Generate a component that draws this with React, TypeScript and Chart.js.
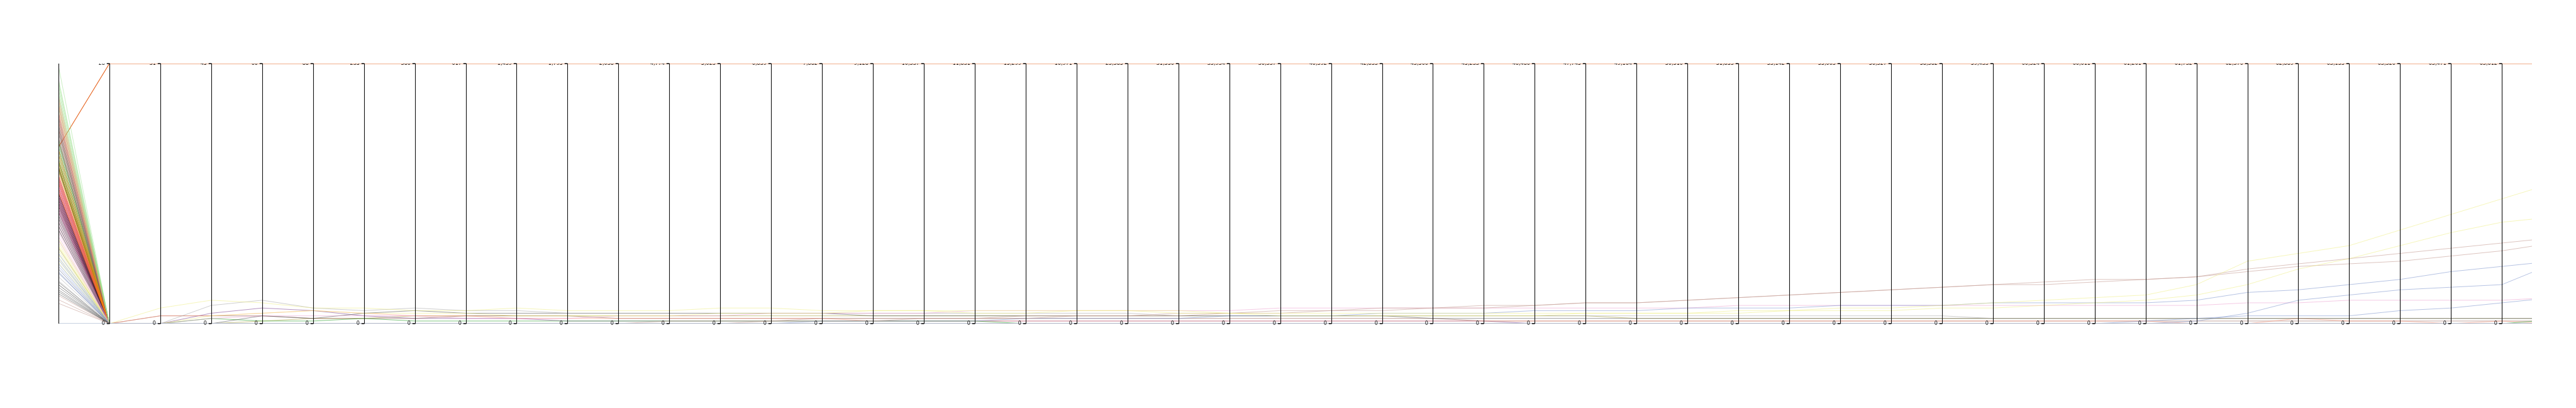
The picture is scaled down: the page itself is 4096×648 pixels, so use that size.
import React, { useEffect, useRef } from "react";
import { Chart, registerables } from "chart.js";

Chart.register(...registerables);

// Top (maximum) label of each numeric axis, axes 1..48 (axis 0 is the unlabeled category axis)
const AXIS_MAX_LABELS = [
  "28", "31", "45", "60", "88", "235", "380", "617", "1,439", "1,795", "2,038", "4,774",
  "5,023", "6,839", "7,882", "9,128", "10,337", "11,831", "15,299", "16,971", "23,385", "31,550", "33,934", "36,337",
  "40,392", "42,833", "43,500", "45,233", "46,480", "47,745", "49,164", "50,510", "51,853", "53,142", "55,003", "56,327",
  "58,382", "59,433", "60,324", "60,611", "61,201", "61,732", "62,370", "62,889", "63,153", "63,320", "63,471", "63,612",
];
const AXIS_COUNT = 49; // axes 0..48 visible
const X_MAX = 48.59; // plot is cut a little after the last visible axis

// Values on the numeric axes (1..49) in % of each axis maximum, for lines that stay at zero
const NONE = [
  0, 0, 0, 0, 0, 0, 0, 0, 0, 0,
  0, 0, 0, 0, 0, 0, 0, 0, 0, 0,
  0, 0, 0, 0, 0, 0, 0, 0, 0, 0,
  0, 0, 0, 0, 0, 0, 0, 0, 0, 0,
  0, 0, 0, 0, 0, 0, 0, 0, 0,
];

// Positions on the first axis (% of its height), one per line, grouped by colour
const START_LIGHTGREEN = [99, 94, 93, 91.5, 90, 88.5, 87, 85, 83];
const START_SALMON = [87.5, 86, 84.5, 83, 81.5, 80, 78];
const START_BROWN = [81, 79, 77.5, 76, 74.5, 73, 71.5, 70];
const START_GRAYTOP = [79.5, 76.5, 73.5];
const START_GREEN = [71, 69.5, 68, 66.5, 65, 63.5, 62, 60.5, 59];
const START_ORANGE = [67, 65, 63, 61.5, 60, 58.5, 57, 55.5, 54, 52, 50.5];
const START_MAGENTA = [57, 56.2, 55.4, 54.6, 53.8, 53, 52.2, 51.4, 50.6, 49.8, 49, 48.2, 47.4, 46.6, 45.8, 45, 44, 43];
const START_BLACK = [50, 48.8, 47.6, 46.4, 45.2, 44, 42.8, 41.6, 40.4, 39, 37.5, 36];
const START_PINK = [44, 42.5, 41, 39.5, 36.5, 35, 33.5, 32];
const START_YELLOW = [32.5, 31, 29.5, 26.5, 25, 23.5];
const START_BLUE = [27, 25.5, 24.5, 23, 21];
const START_LIGHTGRAY = [21, 18, 16.5, 15];
const START_DARKGRAY = [16, 15, 13, 12.3, 11.5];
const START_TAN = [7.8];
const START_BLUEGRAY = [0];
const START_OLIVEDARK = [60];

// Lines with non-zero values (start on axis 0, then axes 1..49 in % of axis max)
const TOP_START = 67.9;
const TOP_VALUES = [
  100, 100, 100, 100, 100, 100, 100, 100, 100, 100,
  100, 100, 100, 100, 100, 100, 100, 100, 100, 100,
  100, 100, 100, 100, 100, 100, 100, 100, 100, 100,
  100, 100, 100, 100, 100, 100, 100, 100, 100, 100,
  100, 100, 100, 100, 100, 100, 100, 100, 100,
];
const YELLOW1_START = 30;
const YELLOW1 = [
  0, 6, 9, 8, 6, 6, 5, 5, 6, 5,
  5, 5, 6, 6, 5, 5, 5, 4, 4, 5,
  5, 4, 4, 3, 3, 3, 3, 3, 3, 4,
  4, 4, 5, 5, 6, 6, 7, 8, 9, 10,
  11, 15, 24, 27, 30, 36, 42, 48, 54,
];
const YELLOW2_START = 28;
const YELLOW2 = [
  0, 0, 3, 4, 5, 4, 4, 4, 3, 3,
  3, 3, 4, 4, 4, 5, 5, 5, 5, 5,
  5, 5, 4, 4, 4, 4, 4, 4, 4, 4,
  4, 4, 4, 5, 5, 5, 6, 6, 7, 8,
  9, 11, 15, 21, 25, 30, 35, 39, 41,
];
const TAN1_START = 10.8;
const TAN1 = [
  0, 0, 0, 0, 0, 0, 0, 0, 0, 0,
  0, 1, 1, 1, 2, 2, 2, 2, 3, 3,
  3, 4, 4, 5, 5, 6, 6, 7, 7, 8,
  8, 9, 10, 11, 12, 13, 14, 15, 15, 16,
  17, 18, 21, 23, 25, 27, 29, 31, 33,
];
const TAN2_START = 9.2;
const TAN2 = [
  0, 0, 0, 0, 0, 0, 0, 0, 0, 0,
  0, 0, 0, 1, 1, 1, 2, 2, 2, 3,
  3, 3, 4, 4, 5, 5, 6, 6, 7, 8,
  8, 9, 10, 11, 12, 13, 14, 15, 16, 17,
  17, 18, 20, 22, 23, 24, 26, 28, 31,
];
const BLUE1_START = 22;
const BLUE1 = [
  0, 0, 0, 0, 0, 0, 0, 0, 0, 0,
  0, 0, 0, 0, 1, 1, 1, 1, 2, 2,
  2, 2, 3, 3, 3, 4, 4, 4, 5, 5,
  5, 6, 6, 6, 7, 7, 7, 8, 8, 8,
  8, 9, 12, 13, 15, 17, 20, 22, 24,
];
const BLUE2_START = 19.5;
const BLUE2 = [
  0, 0, 0, 0, 0, 0, 0, 0, 0, 0,
  0, 0, 0, 0, 0, 0, 0, 0, 0, 0,
  0, 0, 0, 0, 0, 0, 0, 0, 0, 0,
  0, 0, 0, 0, 0, 0, 0, 0, 0, 0,
  0, 1, 4, 9, 11, 13, 14, 15, 23,
];
const BLUE3_START = 20;
const BLUE3 = [
  0, 0, 0, 0, 0, 0, 0, 0, 0, 0,
  0, 0, 0, 0, 0, 0, 0, 0, 0, 0,
  0, 0, 0, 0, 0, 0, 0, 0, 0, 0,
  0, 0, 0, 0, 0, 0, 0, 0, 0, 0,
  1, 2, 3, 3, 3, 5, 6, 8, 10,
];
const PINK_START = 38;
const PINK = [
  0, 0, 2, 3, 3, 3, 3, 2, 2, 2,
  3, 3, 3, 4, 4, 4, 4, 5, 5, 5,
  5, 5, 5, 6, 6, 6, 6, 6, 6, 6,
  6, 6, 7, 7, 7, 7, 7, 7, 7, 7,
  7, 7, 8, 8, 9, 9, 9, 9, 10,
];
const GRAY1_START = 19.5;
const GRAY1 = [
  0, 0, 7, 9, 6, 5, 6, 5, 5, 4,
  4, 4, 4, 4, 4, 4, 4, 4, 4, 4,
  4, 3, 3, 3, 3, 3, 3, 3, 3, 3,
  3, 3, 3, 3, 3, 3, 3, 2, 2, 2,
  2, 2, 2, 2, 2, 2, 2, 2, 2,
];
const GRAY2_START = 14;
const GRAY2 = [
  0, 0, 0, 3, 2, 4, 5, 4, 4, 4,
  4, 4, 4, 4, 4, 3, 3, 3, 3, 3,
  3, 3, 3, 3, 3, 3, 2, 2, 2, 2,
  2, 2, 2, 2, 2, 2, 2, 2, 2, 2,
  2, 2, 2, 2, 2, 2, 2, 2, 2,
];
const GREEN1_START = 62.5;
const GREEN1 = [
  0, 0, 2, 1, 1, 2, 1, 1, 1, 1,
  1, 1, 1, 1, 1, 1, 1, 1, 0, 0,
  0, 0, 0, 0, 0, 0, 0, 0, 0, 0,
  0, 0, 0, 0, 0, 0, 0, 0, 0, 0,
  0, 0, 0, 0, 0, 0, 0, 0, 1.5,
];
const SALMON1_START = 84;
const SALMON1 = [
  0, 3, 3, 4, 5, 4, 3, 3, 2, 2,
  2, 2, 2, 2, 2, 1, 1, 1, 1, 1,
  1, 1, 1, 1, 1, 1, 1, 1, 1, 1,
  1, 1, 1, 1, 1, 1, 1, 1, 1, 1,
  1, 0, 0, 2, 1, 1, 0, 1, 0,
];
const BROWN1_START = 75;
const BROWN1 = [
  0, 3, 3, 3, 2, 2, 2, 3, 3, 3,
  2, 2, 2, 2, 2, 2, 2, 2, 2, 2,
  2, 2, 2, 2, 2, 2, 2, 1, 1, 1,
  1, 1, 1, 1, 1, 1, 1, 1, 1, 1,
  1, 1, 1, 1, 1, 1, 1, 1, 1,
];
const PURPLE1_START = 50;
const PURPLE1 = [
  0, 0, 4, 6, 5, 3, 2, 2, 2, 1,
  1, 1, 1, 1, 1, 1, 1, 1, 1, 1,
  1, 1, 1, 1, 1, 1, 1, 1, 0, 0,
  0, 0, 0, 0, 0, 0, 0, 0, 0, 0,
  0, 0, 0, 0, 0, 0, 0, 0, 0,
];
const OLIVE1_START = 29;
const OLIVE1 = [
  0, 0, 0, 1, 2, 2, 3, 3, 3, 3,
  3, 3, 3, 3, 3, 3, 3, 3, 3, 3,
  3, 3, 3, 3, 3, 3, 3, 3, 3, 3,
  2, 2, 2, 2, 2, 2, 2, 2, 2, 2,
  2, 2, 2, 2, 2, 2, 2, 2, 2,
];

const COLORS = {
  lightgreen: "rgba(152,223,138,0.5)",
  salmon: "rgba(255,140,110,0.5)",
  brown: "rgba(140,86,75,0.55)",
  graytop: "rgba(127,127,127,0.5)",
  green: "rgba(44,160,44,0.6)",
  orange: "rgba(255,127,14,0.6)",
  magenta: "rgba(200,30,120,0.6)",
  black: "rgba(30,30,30,0.6)",
  pink: "rgba(231,138,195,0.45)",
  yellow: "rgba(238,238,120,0.5)",
  blue: "rgba(110,135,200,0.5)",
  lightgray: "rgba(160,160,160,0.5)",
  darkgray: "rgba(80,80,80,0.55)",
  tan: "rgba(196,156,148,0.6)",
  bluegray: "rgba(185,198,218,0.8)",
  purple: "rgba(120,60,140,0.55)",
  olive: "rgba(170,165,70,0.6)",
  olivedark: "rgba(80,80,40,0.85)",
  top: "#e5601a",
};

const FONT = "9px 'Liberation Sans Narrow', 'DejaVu Sans Condensed', 'Liberation Sans', sans-serif";

function toPoints(start: number, values: number[]) {
  return [start, ...values].map((y, i) => ({ x: i, y }));
}

function line(color: string, start: number, values: number[], width = 1) {
  return {
    data: toPoints(start, values),
    borderColor: color,
    backgroundColor: color,
    borderWidth: width,
    pointRadius: 0,
    fill: false,
    tension: 0,
  };
}

const axesPlugin = {
  id: "parallelAxes",
  afterDatasetsDraw(chart: any) {
    const { ctx, chartArea, scales } = chart;
    const { top, bottom } = chartArea;
    const x = scales.x;
    ctx.save();
    for (let i = 0; i < AXIS_COUNT; i++) {
      const px = Math.round(x.getPixelForValue(i)) + 0.5;
      ctx.strokeStyle = "#111";
      ctx.lineWidth = 1.1;
      ctx.beginPath();
      ctx.moveTo(px, top);
      ctx.lineTo(px, bottom);
      ctx.stroke();
      if (i === 0) continue;
      ctx.lineWidth = 1.6;
      ctx.beginPath();
      ctx.moveTo(px - 4.7, top);
      ctx.lineTo(px, top);
      ctx.moveTo(px - 4.7, bottom);
      ctx.lineTo(px, bottom);
      ctx.stroke();
      ctx.fillStyle = "#111";
      ctx.font = FONT;
      ctx.textAlign = "right";
      ctx.textBaseline = "middle";
      ctx.fillText("0", px - 7.5, bottom);
      ctx.save();
      ctx.beginPath();
      ctx.rect(0, top, chart.width, chart.height - top);
      ctx.clip();
      ctx.fillText(AXIS_MAX_LABELS[i - 1], px - 7.5, top);
      ctx.restore();
    }
    ctx.restore();
  },
};

export default function App() {
  const ref = useRef<HTMLCanvasElement>(null);
  useEffect(() => {
    const datasets: any[] = [];
    const groups: [string, number[]][] = [
      [COLORS.bluegray, START_BLUEGRAY],
      [COLORS.tan, START_TAN],
      [COLORS.darkgray, START_DARKGRAY],
      [COLORS.lightgray, START_LIGHTGRAY],
      [COLORS.blue, START_BLUE],
      [COLORS.yellow, START_YELLOW],
      [COLORS.pink, START_PINK],
      [COLORS.lightgreen, START_LIGHTGREEN],
      [COLORS.salmon, START_SALMON],
      [COLORS.graytop, START_GRAYTOP],
      [COLORS.brown, START_BROWN],
      [COLORS.orange, START_ORANGE],
      [COLORS.green, START_GREEN],
      [COLORS.black, START_BLACK],
      [COLORS.magenta, START_MAGENTA],
    ];
    for (const [color, starts] of groups) {
      for (const s of starts) {
        datasets.push(line(color, s, NONE, color === COLORS.bluegray ? 2 : 1));
      }
    }
    datasets.push(line(COLORS.yellow, YELLOW1_START, YELLOW1));
    datasets.push(line(COLORS.yellow, YELLOW2_START, YELLOW2));
    datasets.push(line(COLORS.tan, TAN1_START, TAN1));
    datasets.push(line(COLORS.tan, TAN2_START, TAN2));
    datasets.push(line(COLORS.blue, BLUE1_START, BLUE1));
    datasets.push(line(COLORS.blue, BLUE2_START, BLUE2));
    datasets.push(line(COLORS.blue, BLUE3_START, BLUE3));
    datasets.push(line(COLORS.pink, PINK_START, PINK));
    datasets.push(line(COLORS.lightgray, GRAY1_START, GRAY1));
    datasets.push(line(COLORS.darkgray, GRAY2_START, GRAY2));
    datasets.push(line(COLORS.green, GREEN1_START, GREEN1));
    datasets.push(line(COLORS.salmon, SALMON1_START, SALMON1));
    datasets.push(line(COLORS.brown, BROWN1_START, BROWN1));
    datasets.push(line(COLORS.purple, PURPLE1_START, PURPLE1));
    datasets.push(line(COLORS.olive, OLIVE1_START, OLIVE1));
    for (const s of START_OLIVEDARK) {
      datasets.push(line(COLORS.olivedark, s, NONE, 1.5));
    }
    datasets.push(line(COLORS.top, TOP_START, TOP_VALUES, 1.1));

    const chart = new Chart(ref.current!, {
      type: "line",
      data: { datasets },
      options: {
        animation: false,
        responsive: false,
        devicePixelRatio: 1,
        parsing: false,
        normalized: true,
        layout: { padding: { left: 93, right: 70, top: 101, bottom: 134 } },
        plugins: { legend: { display: false }, tooltip: { enabled: false } },
        scales: {
          x: { type: "linear", min: 0, max: X_MAX, display: false },
          y: { type: "linear", min: 0, max: 100, display: false },
        },
      },
      plugins: [axesPlugin],
    });
    return () => chart.destroy();
  }, []);
  return (
    <div style={{ position: "fixed", left: 0, top: 0, width: 4096, height: 648, background: "#fff" }}>
      <canvas ref={ref} width={4096} height={648} style={{ display: "block" }} />
    </div>
  );
}
